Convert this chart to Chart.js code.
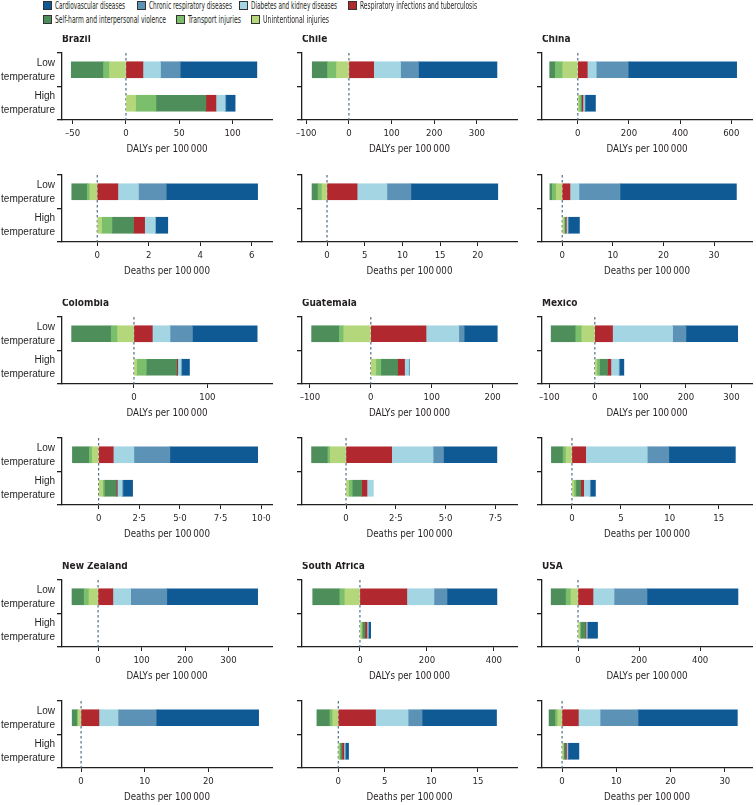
<!DOCTYPE html>
<html>
<head>
<meta charset="utf-8">
<script src="https://cdn.jsdelivr.net/npm/chart.js@4.4.1/dist/chart.umd.min.js"></script>
<style>
  body { margin: 0; background: #fff; width: 756px; height: 805px; position: relative; overflow: hidden; }
  .panel { position: absolute; }
  .box { position: absolute; width: 9px; height: 9px; border: 1px solid #333; box-sizing: border-box; }
  .keytext { position: absolute; font-family: 'DejaVu Sans Condensed', sans-serif; font-size: 10.5px; line-height: 12px;
    color: #231f20; white-space: nowrap; transform-origin: 0 50%; }
</style>
</head>
<body>
<script>
const FONT = "'DejaVu Sans Condensed', 'Liberation Sans', sans-serif";
const LABEL_FONT = "'Liberation Sans', 'DejaVu Sans Condensed', sans-serif";

// causes in legend order
const causes = ['Cardiovascular diseases', 'Chronic respiratory diseases', 'Diabetes and kidney diseases',
  'Respiratory infections and tuberculosis', 'Self-harm and interpersonal violence', 'Transport injuries',
  'Unintentional injuries'];
const colours = ['#0f5a94', '#5b92b6', '#a3d5e3', '#b2282f', '#4e8e5b', '#7bbf6d', '#b4d77b'];
// order in which segments stack out from zero
const stackOrder = [6, 5, 4, 3, 2, 1, 0];
const categories = [['Low', 'temperature'], ['High', 'temperature']];
const dalyTitle = 'DALYs per 100\u2009000';
const deathTitle = 'Deaths per 100\u2009000';

// values per cause, legend order: cardio, chronic resp, diabetes, resp inf, self-harm, transport, unintentional
const brazilDalyLow = [71.9, 18.5, 16.5, 15.9, -30.3, -5.6, -15.4];
const brazilDalyHigh = [8.7, 0.8, 8.5, 9.4, 46.9, 19.1, 9.0];
const chileDalyLow = [184, 42, 63, 58, -36, -21, -29];
const chileDalyHigh = [0, 0, 0, 0, 0, 0, 0];
const chinaDalyLow = [424, 125, 35, 37, -22, -29, -59];
const chinaDalyHigh = [40, 3, 6, 5, 3, 7, 5];

const brazilDeathLow = [3.55, 1.08, 0.80, 0.80, -0.60, -0.10, -0.29];
const brazilDeathHigh = [0.47, 0.02, 0.41, 0.43, 0.84, 0.40, 0.17];
const chileDeathLow = [11.52, 3.19, 3.95, 3.99, -0.80, -0.53, -0.66];
const chileDeathHigh = [0, 0, 0, 0, 0, 0, 0];
const chinaDeathLow = [23.0, 8.12, 1.78, 1.52, -0.46, -0.79, -1.19];
const chinaDeathHigh = [2.2, 0.1, 0.3, 0.2, 0.1, 0.2, 0.3];

const colombiaDalyLow = [88.2, 30.5, 24.1, 25, -54, -8.6, -22.3];
const colombiaDalyHigh = [10.5, 1.2, 4.3, 1.4, 41.4, 13.2, 3.6];
const guatemalaDalyLow = [54.4, 8.8, 53.8, 90.6, -45.6, -7.1, -44.5];
const guatemalaDalyHigh = [0, 1.6, 6.6, 11.5, 27.5, 8.2, 8.2];
const mexicoDalyLow = [113.6, 29.3, 131.9, 38.8, -54.2, -13.2, -28.6];
const mexicoDalyHigh = [9.5, 2.2, 16.8, 7.3, 17.6, 5.9, 4.4];

const colombiaDeathLow = [5.40, 2.21, 1.27, 0.90, -1.04, -0.18, -0.39];
const colombiaDeathHigh = [0.59, 0.06, 0.29, 0.06, 0.74, 0.10, 0.25];
const guatemalaDeathLow = [2.68, 0.52, 2.08, 2.29, -0.82, -0.12, -0.79];
const guatemalaDeathHigh = [0, 0, 0.32, 0.27, 0.47, 0.18, 0.13];
const mexicoDeathLow = [6.8, 2.2, 6.3, 1.4, -1.2, -0.3, -0.6];
const mexicoDeathHigh = [0.5, 0.1, 0.6, 0.3, 0.5, 0.2, 0.2];

const nzDalyLow = [209, 83, 41, 34, -28, -11, -21];
const nzDalyHigh = [0, 0, 0, 0, 0, 0, 0];
const saDalyLow = [149, 39, 81, 140, -81, -15, -45];
const saDalyHigh = [6, 2, 3, 6, 8, 3, 4];
const usaDalyLow = [298, 108, 69, 49, -49, -16, -23];
const usaDalyHigh = [33, 2, 3, 2, 16, 3, 5];

const nzDeathLow = [16.1, 6.0, 3.0, 2.8, -0.8, -0.15, -0.45];
const nzDeathHigh = [0, 0, 0, 0, 0, 0, 0];
const saDeathLow = [8.0, 1.5, 3.5, 4.0, -1.4, -0.3, -0.6];
const saDeathHigh = [0.3, 0.1, 0.1, 0.2, 0.2, 0.1, 0.1];
const usaDeathLow = [18.3, 7, 4, 3, -1.2, -0.4, -0.8];
const usaDeathHigh = [2.0, 0.1, 0.2, 0.2, 0.3, 0.1, 0.2];

// tick labels of each x axis
const brazilDalyTicks = [-50, 0, 50, 100];
const chileDalyTicks = [-100, 0, 100, 200, 300];
const chinaDalyTicks = [0, 200, 400, 600];
const brazilDeathTicks = [0, 2, 4, 6];
const chileDeathTicks = [0, 5, 10, 15, 20];
const chinaDeathTicks = [0, 10, 20, 30];
const colombiaDalyTicks = [0, 100];
const guatemalaDalyTicks = [-100, 0, 100, 200];
const mexicoDalyTicks = [-100, 0, 100, 200, 300];
const colombiaDeathTicks = [0, 2.5, 5, 7.5, 10];
const guatemalaDeathTicks = [0, 2.5, 5, 7.5];
const mexicoDeathTicks = [0, 5, 10, 15];
const nzDalyTicks = [0, 100, 200, 300];
const saDalyTicks = [0, 200, 400];
const usaDalyTicks = [0, 200, 400];
const nzDeathTicks = [0, 10, 20];
const saDeathTicks = [0, 5, 10, 15];
const usaDeathTicks = [0, 10, 20, 30];

const panels = [
  {title: 'Brazil', low: brazilDalyLow, high: brazilDalyHigh, ticks: brazilDalyTicks, min: -60, max: 137, unit: dalyTitle},
  {title: 'Chile', low: chileDalyLow, high: chileDalyHigh, ticks: chileDalyTicks, min: -110, max: 394, unit: dalyTitle},
  {title: 'China', low: chinaDalyLow, high: chinaDalyHigh, ticks: chinaDalyTicks, min: -140, max: 681, unit: dalyTitle},
  {low: brazilDeathLow, high: brazilDeathHigh, ticks: brazilDeathTicks, min: -1.37, max: 6.79, unit: deathTitle},
  {low: chileDeathLow, high: chileDeathHigh, ticks: chileDeathTicks, min: -3.32, max: 25.2, unit: deathTitle},
  {low: chinaDeathLow, high: chinaDeathHigh, ticks: chinaDeathTicks, min: -4.0, max: 37.5, unit: deathTitle},
  {title: 'Colombia', low: colombiaDalyLow, high: colombiaDalyHigh, ticks: colombiaDalyTicks, min: -98, max: 188, unit: dalyTitle},
  {title: 'Guatemala', low: guatemalaDalyLow, high: guatemalaDalyHigh, ticks: guatemalaDalyTicks, min: -113, max: 240, unit: dalyTitle},
  {title: 'Mexico', low: mexicoDalyLow, high: mexicoDalyHigh, ticks: mexicoDalyTicks, min: -116, max: 345, unit: dalyTitle},
  {low: colombiaDeathLow, high: colombiaDeathHigh, ticks: colombiaDeathTicks, min: -2.25, max: 10.66, unit: deathTitle, decimals: true},
  {low: guatemalaDeathLow, high: guatemalaDeathHigh, ticks: guatemalaDeathTicks, min: -2.21, max: 8.58, unit: deathTitle, decimals: true},
  {low: mexicoDeathLow, high: mexicoDeathHigh, ticks: mexicoDeathTicks, min: -3.06, max: 18.4, unit: deathTitle},
  {title: 'New Zealand', low: nzDalyLow, high: nzDalyHigh, ticks: nzDalyTicks, min: -83, max: 400, unit: dalyTitle},
  {title: 'South Africa', low: saDalyLow, high: saDalyHigh, ticks: saDalyTicks, min: -173, max: 469, unit: dalyTitle},
  {title: 'USA', low: usaDalyLow, high: usaDalyHigh, ticks: usaDalyTicks, min: -118, max: 570, unit: dalyTitle},
  {low: nzDeathLow, high: nzDeathHigh, ticks: nzDeathTicks, min: -3.0, max: 30.0, unit: deathTitle},
  {low: saDeathLow, high: saDeathHigh, ticks: saDeathTicks, min: -3.9, max: 19.2, unit: deathTitle},
  {low: usaDeathLow, high: usaDeathHigh, ticks: usaDeathTicks, min: -3.7, max: 35, unit: deathTitle}
];

// layout of the grid
const colLeft = [0, 272, 522];
const colWidth = [280, 255, 234];
const plotRight = [272, 517, 752];
const yAxisWidth = [62, 30, 20];
const rowTop = [53, 175, 317, 438, 580, 701];
const TOP_PAD = 18;
const PANEL_H = 122;
const INK = '#231f20';

Chart.defaults.font.family = FONT;
Chart.defaults.color = INK;

// dashed line at zero
const zeroLine = {
  id: 'zeroLine',
  beforeDatasetsDraw(chart) {
    const ctx = chart.ctx;
    const x = chart.scales.x.getPixelForValue(0);
    const area = chart.chartArea;
    ctx.save();
    ctx.strokeStyle = '#4f6e84';
    ctx.lineWidth = 1.2;
    ctx.setLineDash([2.5, 2.5]);
    ctx.beginPath();
    ctx.moveTo(x, area.top);
    ctx.lineTo(x, area.bottom);
    ctx.stroke();
    ctx.restore();
  }
};

// country name above the plot, left aligned with the axis
const panelTitle = {
  id: 'panelTitle',
  afterDraw(chart, args, opts) {
    if (!opts.text) return;
    const ctx = chart.ctx;
    ctx.save();
    ctx.font = 'bold 10px ' + FONT;
    ctx.fillStyle = INK;
    ctx.textBaseline = 'middle';
    ctx.fillText(opts.text, chart.chartArea.left, chart.chartArea.top - 14);
    ctx.restore();
  }
};

function fmt(v, decimals) {
  if (v === 0) return '0';
  let s = decimals ? v.toFixed(1).replace('.', '\u00b7') : String(v);
  return s.replace('-', '\u2013');
}

panels.forEach((p, i) => {
  const col = i % 3;
  const row = Math.floor(i / 3);
  const wrap = document.createElement('div');
  wrap.className = 'panel';
  wrap.style.left = colLeft[col] + 'px';
  wrap.style.top = (rowTop[row] - TOP_PAD) + 'px';
  const cv = document.createElement('canvas');
  cv.width = colWidth[col];
  cv.height = PANEL_H;
  wrap.appendChild(cv);
  document.body.appendChild(wrap);

  const datasets = stackOrder.map(c => ({
    label: causes[c],
    data: [p.low[c] || null, p.high[c] || null],
    backgroundColor: colours[c],
    borderWidth: 0,
    barThickness: 16
  }));

  new Chart(cv, {
    type: 'bar',
    data: {labels: categories, datasets: datasets},
    plugins: [zeroLine, panelTitle],
    options: {
      indexAxis: 'y',
      responsive: false,
      animation: false,
      devicePixelRatio: 1,
      layout: {padding: {top: TOP_PAD, right: colLeft[col] + colWidth[col] - plotRight[col], left: 0, bottom: 0}},
      plugins: {
        legend: {display: false},
        tooltip: {enabled: false},
        panelTitle: {text: p.title}
      },
      scales: {
        x: {
          type: 'linear',
          stacked: true,
          min: p.min,
          max: p.max,
          afterBuildTicks: s => { s.ticks = p.ticks.map(v => ({value: v})); },
          grid: {drawOnChartArea: false, drawTicks: true, tickLength: 4, color: INK, lineWidth: 1},
          border: {color: INK, width: 1.3},
          ticks: {color: INK, font: {size: 9.5}, padding: 4, maxRotation: 0, autoSkip: false,
            callback: v => fmt(v, p.decimals)},
          title: {display: true, text: p.unit, color: INK, font: {size: 9.7}, padding: {top: 0, bottom: 2}},
          afterFit: s => { s.height = 37; }
        },
        y: {
          stacked: true,
          offset: true,
          grid: {drawOnChartArea: false, drawTicks: true, tickLength: 5, offset: true, color: INK, lineWidth: 1.3},
          border: {color: INK, width: 1.3},
          ticks: {display: col === 0, color: INK, font: {family: LABEL_FONT, size: 10, lineHeight: 1.4}, padding: 2},
          afterFit: s => { s.width = yAxisWidth[col]; }
        }
      }
    }
  });
});

// legend: box position, centre line and the width the text takes in the figure
const keyX = [43, 137, 239, 348, 43, 176, 251];
const keyY = [5, 5, 5, 5, 19, 19, 19];
const keyTextW = [70, 83, 86, 117, 111, 53, 66];
causes.forEach((name, c) => {
  const b = document.createElement('div');
  b.className = 'box';
  b.style.left = keyX[c] + 'px';
  b.style.top = (keyY[c] - 4.5) + 'px';
  b.style.background = colours[c];
  document.body.appendChild(b);
  const t = document.createElement('div');
  t.className = 'keytext';
  t.textContent = name;
  t.style.left = (keyX[c] + 12) + 'px';
  t.style.top = (keyY[c] - 6) + 'px';
  document.body.appendChild(t);
  const w = t.getBoundingClientRect().width;
  t.style.transform = 'scaleX(' + (keyTextW[c] / w).toFixed(3) + ')';
});
</script>
</body>
</html>
